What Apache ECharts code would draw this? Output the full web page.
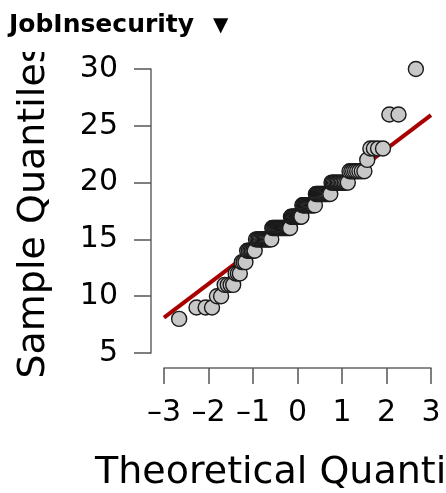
<!DOCTYPE html>
<html>
<head>
<meta charset="utf-8">
<script src="https://cdn.jsdelivr.net/npm/echarts@6/dist/echarts.min.js"></script>
<style>
  html, body { margin: 0; padding: 0; background: #fff; }
  #chart { width: 446px; height: 493px; }
</style>
</head>
<body>
<div id="chart"></div>
<script>
// theoretical quantiles (x) and sorted sample values (y)
const theoretical = [
  -2.660, -2.270, -2.064, -1.921, -1.810, -1.717, -1.637, -1.567, -1.503, -1.445,
  -1.391, -1.341, -1.295, -1.251, -1.210, -1.169, -1.131, -1.095, -1.060, -1.026,
  -0.994, -0.962, -0.932, -0.902, -0.873, -0.845, -0.817, -0.790, -0.764, -0.737,
  -0.712, -0.687, -0.662, -0.638, -0.614, -0.590, -0.567, -0.545, -0.522, -0.500,
  -0.478, -0.456, -0.434, -0.413, -0.391, -0.370, -0.349, -0.329, -0.308, -0.287,
  -0.267, -0.247, -0.227, -0.207, -0.187, -0.167, -0.147, -0.128, -0.108, -0.088,
  -0.069, -0.049, -0.029, -0.010, 0.010, 0.029, 0.049, 0.069, 0.088, 0.108,
  0.128, 0.147, 0.167, 0.187, 0.207, 0.227, 0.247, 0.267, 0.287, 0.308,
  0.329, 0.349, 0.370, 0.391, 0.413, 0.434, 0.456, 0.478, 0.500, 0.522,
  0.545, 0.567, 0.590, 0.614, 0.638, 0.662, 0.687, 0.712, 0.737, 0.764,
  0.790, 0.817, 0.845, 0.873, 0.902, 0.932, 0.962, 0.994, 1.026, 1.060,
  1.095, 1.131, 1.169, 1.210, 1.251, 1.295, 1.341, 1.391, 1.445, 1.503,
  1.567, 1.637, 1.717, 1.810, 1.921, 2.064, 2.270, 2.660
];
const sample = [
  8, 9, 9, 9, 10, 10, 11, 11, 11, 11,
  12, 12, 12, 13, 13, 13, 14, 14, 14, 14,
  14, 14, 15, 15, 15, 15, 15, 15, 15, 15,
  15, 15, 15, 15, 15, 15, 16, 16, 16, 16,
  16, 16, 16, 16, 16, 16, 16, 16, 16, 16,
  16, 16, 16, 16, 16, 16, 17, 17, 17, 17,
  17, 17, 17, 17, 17, 17, 17, 17, 17, 18,
  18, 18, 18, 18, 18, 18, 18, 18, 18, 18,
  18, 18, 18, 18, 19, 19, 19, 19, 19, 19,
  19, 19, 19, 19, 19, 19, 19, 19, 19, 20,
  20, 20, 20, 20, 20, 20, 20, 20, 20, 20,
  20, 20, 21, 21, 21, 21, 21, 21, 21, 21,
  22, 23, 23, 23, 23, 26, 26, 30
];
// reference line end points
const lineX = [-3, 3];
const lineY = [8.12, 25.94];

const xTicks = { min: -3, max: 3, step: 1 };
const yTicks = { min: 5, max: 30, step: 5 };

const font = 'DejaVu Sans';
const minus = v => String(v).replace('-', '\u2013');

const points = theoretical.map((x, i) => [x, sample[i]]);
const line = lineX.map((x, i) => [x, lineY[i]]);

const option = {
  animation: false,
  backgroundColor: '#fff',
  grid: { left: 164, right: 15, top: 69, bottom: 140, outerBoundsMode: 'none', containLabel: false },
  xAxis: {
    type: 'value',
    min: xTicks.min,
    max: xTicks.max,
    interval: xTicks.step,
    offset: 15,
    name: 'Theoretical Quantiles',
    nameLocation: 'middle',
    nameGap: 86,
    nameTextStyle: { fontFamily: font, fontSize: 38, color: '#000' },
    axisLine: { onZero: false, lineStyle: { color: '#666', width: 1.5 } },
    axisTick: { length: 16, lineStyle: { color: '#555', width: 1.5 } },
    axisLabel: { fontFamily: font, fontSize: 30, color: '#000', margin: 30, formatter: minus },
    splitLine: { show: false }
  },
  yAxis: {
    type: 'value',
    min: yTicks.min,
    max: yTicks.max,
    interval: yTicks.step,
    offset: 13,
    name: 'Sample Quantiles',
    nameLocation: 'middle',
    nameGap: 98,
    nameTextStyle: { fontFamily: font, fontSize: 38, color: '#000' },
    axisLine: { show: true, onZero: false, lineStyle: { color: '#666', width: 1.5 } },
    axisTick: { show: true, length: 17, lineStyle: { color: '#555', width: 1.5 } },
    axisLabel: { fontFamily: font, fontSize: 30, color: '#000', margin: 33 },
    splitLine: { show: false }
  },
  graphic: [
    { type: 'rect', shape: { x: 0, y: 0, width: 446, height: 52 }, style: { fill: '#fff' }, z: 100 },
    { type: 'text', left: 9, top: 13, z: 101, style: { text: 'JobInsecurity', font: 'bold 25px "DejaVu Sans"', fill: '#000' } },
    { type: 'text', left: 213, top: 16, z: 101, style: { text: '\u25BC', font: '20px "DejaVu Sans"', fill: '#000' } }
  ],
  series: [
    {
      type: 'line',
      data: line,
      symbol: 'none',
      silent: true,
      lineStyle: { color: '#a80000', width: 4 },
      z: 1
    },
    {
      type: 'scatter',
      data: points,
      symbolSize: 15,
      clip: false,
      itemStyle: { color: '#c8c8c8', borderColor: '#1a1a1a', borderWidth: 1.4, opacity: 1 },
      z: 2
    }
  ]
};

const chart = echarts.init(document.getElementById('chart'));
chart.setOption(option);
</script>
</body>
</html>
